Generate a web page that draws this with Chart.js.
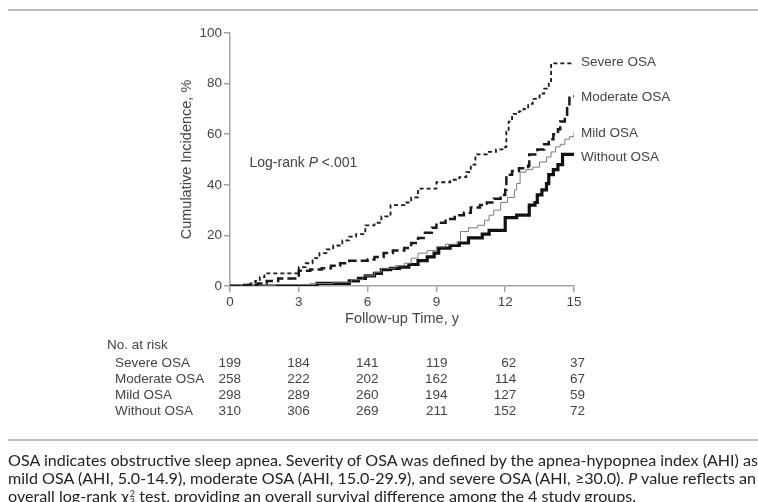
<!DOCTYPE html>
<html>
<head>
<meta charset="utf-8">
<script src="https://cdn.jsdelivr.net/npm/chart.js@4.4.1/dist/chart.umd.min.js"></script>
<style>
  body { margin: 0; background: #fff; width: 758px; height: 502px; overflow: hidden; position: relative; }
  #wrap { position: absolute; left: 0; top: 0; width: 758px; height: 440px; }
  .rule { position: absolute; left: 8px; right: 0; height: 2px; background: #bdbdbd; }
  #caption { position: absolute; left: 8px; top: 451px; width: 900px; font-family: Lato, "Open Sans", sans-serif;
             font-size: 16.1px; line-height: 18px; color: #222; white-space: nowrap; }
  .ss { display: inline-flex; flex-direction: column; font-size: 9px; line-height: 8px; vertical-align: middle; margin-left: 1px; }
</style>
</head>
<body>
<div class="rule" style="top:9px"></div>
<div id="wrap"><canvas id="km"></canvas></div>
<div class="rule" style="top:439px"></div>
<div id="caption">
OSA indicates obstructive sleep apnea. Severity of OSA was defined by the apnea-hypopnea index (AHI) as<br>
mild OSA (AHI, 5.0-14.9), moderate OSA (AHI, 15.0-29.9), and severe OSA (AHI, ≥30.0). <i>P</i> value reflects an<br>
overall log-rank χ<span class="ss"><span>2</span><span>3</span></span> test, providing an overall survival difference among the 4 study groups.
</div>
<script>
// step points (follow-up years, cumulative incidence %)
const severeT = [0, 0.5, 0.9, 1.1, 1.3, 1.5, 3.0, 3.3, 3.6, 3.9, 4.2, 4.5, 4.9, 5.2, 5.5, 5.9, 6.3, 6.6, 7.0, 7.6, 7.9, 8.2, 9.0, 9.6, 10.0, 10.3, 10.5, 10.7, 11.2, 11.6, 12.0, 12.05, 12.15, 12.3, 12.6, 12.8, 13.0, 13.2, 13.5, 13.7, 13.9, 14.0, 15];
const severeV = [0, 0.5, 1, 2, 3.5, 5, 7.5, 9, 11, 13, 14.5, 16, 18, 19.5, 20.5, 24, 25, 27.5, 32, 33, 35, 38.5, 41, 42, 43, 45, 48, 52, 53, 54, 55, 61, 65, 68, 69, 70, 72, 74, 76, 78, 81, 88, 88];

const moderateT = [0, 0.8, 1.2, 1.6, 2.1, 2.9, 3.0, 3.5, 4.0, 4.4, 4.8, 5.2, 6.0, 6.3, 6.7, 7.1, 7.6, 7.9, 8.2, 8.5, 8.8, 9.0, 9.4, 9.8, 10.2, 10.5, 10.9, 11.2, 11.5, 11.8, 12.0, 12.05, 12.3, 12.6, 13.0, 13.05, 13.4, 13.7, 13.9, 14.1, 14.3, 14.4, 14.6, 14.7, 14.8, 15];
const moderateV = [0, 0.5, 1, 2, 3, 3.5, 6, 6.5, 7, 8, 9, 10, 10.5, 11.5, 13, 14, 15, 17, 19, 21, 23, 25, 26.5, 28, 29, 31, 32, 33, 34.5, 36, 38, 44, 45.5, 46.5, 47.5, 52, 54, 56, 58, 60, 62, 65, 66, 71, 75, 75];

const mildT = [0, 1.0, 2.0, 3.5, 4.5, 5.3, 5.8, 6.3, 6.6, 7.2, 7.6, 7.9, 8.2, 8.6, 9.0, 9.4, 9.9, 10.05, 10.4, 10.8, 11.1, 11.3, 11.5, 11.8, 12.1, 12.4, 12.5, 12.65, 12.9, 13.2, 13.5, 13.8, 14.0, 14.2, 14.4, 14.6, 14.8, 15.0];
const mildV = [0, 0.3, 0.6, 1, 1.5, 2.5, 4, 5.5, 7, 8, 9, 11, 13, 14, 15.5, 16.5, 17.5, 21.5, 23, 24, 26, 28, 30, 33, 35, 38, 40.5, 45, 46, 47, 49, 51, 53, 55, 56, 58, 59, 61];

const withoutT = [0, 3.8, 5.2, 5.6, 5.9, 6.3, 6.6, 7.0, 7.4, 7.8, 8.2, 8.6, 8.9, 9.1, 9.6, 10.0, 10.4, 11.0, 11.3, 11.9, 12.0, 12.5, 13.0, 13.05, 13.3, 13.4, 13.6, 13.8, 13.9, 14.1, 14.3, 14.5, 15];
const withoutV = [0, 1, 2, 3, 4, 5, 6.5, 7, 7.5, 8.5, 10, 11.5, 13, 15, 16, 17, 19, 20.5, 22, 22, 27, 28, 28, 32, 33, 36, 38, 40.5, 44, 46, 48, 52, 52];

const groups = ['Severe OSA', 'Moderate OSA', 'Mild OSA', 'Without OSA'];
const riskTimes = [0, 3, 6, 9, 12, 15];
const riskSevere = [199, 184, 141, 119, 62, 37];
const riskModerate = [258, 222, 202, 162, 114, 67];
const riskMild = [298, 289, 260, 194, 127, 59];
const riskWithout = [310, 306, 269, 211, 152, 72];

function pts(t, v) { return t.map((x, i) => ({ x: x, y: v[i] })); }

const FONT = '"Liberation Sans", Arial, sans-serif';
const TXT = '#444';
const AXIS = '#a3a3a3';

const extras = {
  id: 'extras',
  afterDraw(chart) {
    const ctx = chart.ctx;
    const xs = chart.scales.x, ys = chart.scales.y;
    ctx.save();
    ctx.fillStyle = TXT;
    ctx.textBaseline = 'middle';
    // end labels
    ctx.font = '13.5px ' + FONT;
    ctx.textAlign = 'left';
    const ends = [severeV, moderateV, mildV, withoutV];
    const nudge = [-1, 1, 2, 3];
    groups.forEach((g, i) => {
      const v = ends[i][ends[i].length - 1];
      ctx.fillText(g, xs.getPixelForValue(15) + 7, ys.getPixelForValue(v) + nudge[i]);
    });
    // log-rank annotation
    ctx.font = '14px ' + FONT;
    const lx = xs.getPixelForValue(0.85), ly = ys.getPixelForValue(48.5);
    ctx.fillText('Log-rank ', lx, ly);
    let w = ctx.measureText('Log-rank ').width;
    ctx.font = 'italic 14px ' + FONT;
    ctx.fillText('P', lx + w, ly);
    w += ctx.measureText('P ').width;
    ctx.font = '14px ' + FONT;
    ctx.fillText('<.001', lx + w, ly);
    // risk table
    ctx.font = '13.5px ' + FONT;
    ctx.fillText('No. at risk', 107, 345);
    const rows = [riskSevere, riskModerate, riskMild, riskWithout];
    rows.forEach((r, i) => {
      const y = 363 + i * 16;
      ctx.textAlign = 'left';
      ctx.fillText(groups[i], 115, y);
      ctx.textAlign = 'right';
      r.forEach((n, j) => ctx.fillText(String(n), xs.getPixelForValue(riskTimes[j]) + 11, y));
    });
    ctx.restore();
  }
};

const ct = document.getElementById('km').getContext('2d');
new Chart(ct, {
  type: 'line',
  data: {
    datasets: [
      { label: groups[0], data: pts(severeT, severeV), borderColor: '#1a1a1a', borderWidth: 1.8, borderDash: [4, 3] },
      { label: groups[1], data: pts(moderateT, moderateV), borderColor: '#1a1a1a', borderWidth: 2.5, borderDash: [9, 4] },
      { label: groups[2], data: pts(mildT, mildV), borderColor: '#7a7a7a', borderWidth: 1 },
      { label: groups[3], data: pts(withoutT, withoutV), borderColor: '#111', borderWidth: 3.2 }
    ]
  },
  options: {
    responsive: true,
    maintainAspectRatio: false,
    animation: false,
    layout: { padding: { left: 174, top: 33, right: 184, bottom: 108 } },
    elements: { point: { radius: 0 }, line: { stepped: true, tension: 0, fill: false } },
    plugins: { legend: { display: false }, tooltip: { enabled: false } },
    scales: {
      x: {
        type: 'linear', min: 0, max: 15,
        afterFit(s) { s.height = 46; },
        border: { color: AXIS, width: 1.5 },
        grid: { drawOnChartArea: false, tickLength: 6, color: AXIS, lineWidth: 1.5 },
        ticks: { stepSize: 3, color: TXT, font: { family: FONT, size: 13.5 }, padding: 2 },
        title: { display: true, text: 'Follow-up Time, y', color: TXT, font: { family: FONT, size: 14.5 }, padding: { top: 0, bottom: 4 } }
      },
      y: {
        min: 0, max: 100,
        afterFit(s) { s.width = 56; },
        border: { color: AXIS, width: 1.5 },
        grid: { drawOnChartArea: false, tickLength: 6, color: AXIS, lineWidth: 1.5 },
        ticks: { stepSize: 20, color: TXT, font: { family: FONT, size: 13.5 }, padding: 2 },
        title: { display: true, text: 'Cumulative Incidence, %', color: TXT, font: { family: FONT, size: 14.5 }, padding: 4 }
      }
    }
  },
  plugins: [extras]
});
</script>
</body>
</html>
